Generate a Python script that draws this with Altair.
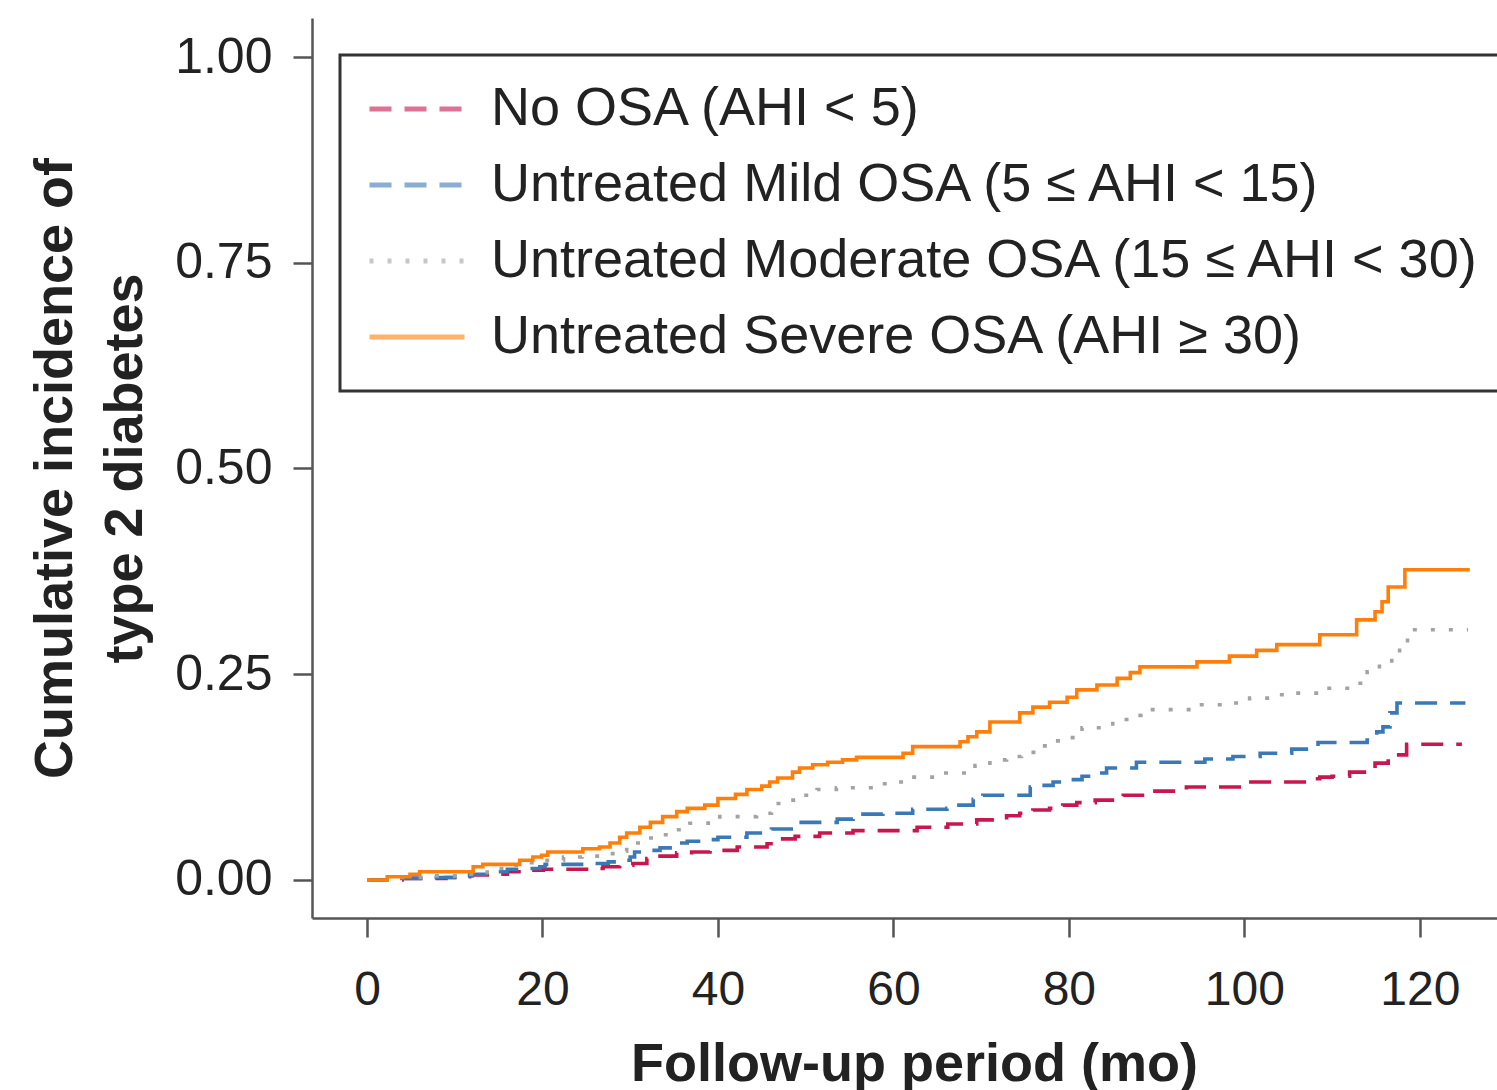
import altair as alt
import pandas as pd

# Group labels (legend order)
groups = [
    "No OSA (AHI < 5)",
    "Untreated Mild OSA (5 ≤ AHI < 15)",
    "Untreated Moderate OSA (15 ≤ AHI < 30)",
    "Untreated Severe OSA (AHI ≥ 30)",
]

# Cumulative incidence step curves: month at which each step begins, and value
no_osa_t = [0, 4, 9, 11, 11.7, 14.4, 16, 18.2, 20.1, 25.4, 26.9, 28.8, 30.3, 31.9, 33.4,
            35.3, 37, 39.1, 42.2, 45.6, 46.8, 48.8, 51.6, 55.4, 62.7, 66.2, 69.5, 72.9,
            74.4, 75.9, 77.8, 79.3, 80.9, 83, 86.2, 89.2, 93.4, 99.8, 107.8, 108.6, 110,
            112, 114, 114.9, 116.4, 118.5, 124.8]
no_osa_v = [0, 0.002, 0.003, 0.004, 0.006, 0.007, 0.010, 0.012, 0.013, 0.014, 0.016,
            0.018, 0.020, 0.026, 0.029, 0.033, 0.034, 0.036, 0.040, 0.044, 0.050, 0.053,
            0.057, 0.060, 0.064, 0.068, 0.073, 0.078, 0.081, 0.085, 0.087, 0.091, 0.094,
            0.097, 0.103, 0.108, 0.113, 0.119, 0.123, 0.125, 0.126, 0.131, 0.136, 0.142,
            0.152, 0.165, 0.165]

mild_t = [0, 3.8, 7, 10.9, 12, 14.4, 16, 18, 19.7, 20.3, 25, 27.5, 29.2, 30, 30.5, 32.3,
          33.4, 35.3, 36.5, 38.7, 40, 43.3, 46.1, 48.8, 53.6, 55.4, 58.8, 62.2, 66.1, 67,
          69.1, 70.2, 75.6, 76.8, 78.2, 79.8, 81.5, 82.8, 84.3, 87.7, 95.5, 98.7, 101.8,
          105.4, 108.4, 114, 115.1, 115.8, 116.6, 117.4, 125.2]
mild_v = [0, 0.002, 0.003, 0.005, 0.007, 0.010, 0.013, 0.014, 0.016, 0.019, 0.020, 0.022,
          0.024, 0.028, 0.034, 0.036, 0.039, 0.045, 0.047, 0.049, 0.052, 0.057, 0.062,
          0.070, 0.074, 0.080, 0.081, 0.086, 0.087, 0.091, 0.098, 0.103, 0.113, 0.115,
          0.119, 0.122, 0.126, 0.130, 0.136, 0.143, 0.147, 0.150, 0.154, 0.159, 0.167,
          0.170, 0.180, 0.186, 0.203, 0.215, 0.215]

moderate_t = [0, 3, 7, 11.5, 13.7, 16, 18.2, 20.3, 22.4, 24.5, 26.5, 28.5, 29.6, 31.5,
              33.4, 35.1, 36.8, 38.9, 40.2, 44.4, 46.1, 47.8, 49.6, 51.3, 53.5, 57.7,
              59.5, 61.5, 65.7, 69.3, 71, 72.9, 74.6, 76.4, 77.8, 79.8, 81.5, 85, 87,
              88.2, 94.7, 98.5, 100.6, 102.9, 104.8, 109, 112.8, 114, 115.4, 116.8,
              117.7, 118.6, 125.5]
moderate_v = [0, 0.003, 0.005, 0.007, 0.014, 0.018, 0.021, 0.024, 0.028, 0.029, 0.032,
              0.035, 0.045, 0.051, 0.055, 0.061, 0.069, 0.072, 0.077, 0.081, 0.093,
              0.097, 0.103, 0.110, 0.112, 0.117, 0.119, 0.125, 0.130, 0.139, 0.146,
              0.150, 0.155, 0.163, 0.169, 0.173, 0.185, 0.195, 0.200, 0.207, 0.213,
              0.215, 0.221, 0.225, 0.227, 0.233, 0.239, 0.253, 0.264, 0.273, 0.288,
              0.304, 0.304]

severe_t = [0, 2.3, 4.9, 6, 12.1, 13.2, 17.4, 18.9, 19.9, 20.6, 24.6, 26.5, 27.7, 28.8,
            29.6, 31.1, 32.3, 33.7, 35.3, 36.5, 38.5, 40, 42, 43.3, 45, 45.9, 46.8, 48.5,
            49.3, 50.8, 52.5, 54.2, 55.8, 61.1, 62.2, 67.6, 68.5, 69.5, 71, 74.4, 75.9,
            77.8, 79.8, 80.9, 83.2, 85.5, 87, 88.1, 94.6, 98.3, 101.4, 103.7, 108.6,
            112.8, 114.9, 115.7, 116.4, 118.3, 125.7]
severe_v = [0, 0.004, 0.007, 0.010, 0.016, 0.019, 0.024, 0.028, 0.030, 0.034, 0.038,
            0.040, 0.045, 0.052, 0.057, 0.064, 0.070, 0.077, 0.083, 0.087, 0.091, 0.099,
            0.104, 0.110, 0.114, 0.119, 0.124, 0.131, 0.136, 0.140, 0.143, 0.146, 0.149,
            0.154, 0.162, 0.168, 0.174, 0.180, 0.192, 0.203, 0.210, 0.216, 0.222, 0.231,
            0.237, 0.245, 0.252, 0.259, 0.265, 0.272, 0.279, 0.286, 0.298, 0.316, 0.326,
            0.338, 0.356, 0.377, 0.377]

x_ticks = [0, 20, 40, 60, 80, 100, 120]
y_ticks = [0.0, 0.25, 0.50, 0.75, 1.00]

colors = ["#c8164e", "#3b79b6", "#a3a3a3", "#ff7f0a"]
dashes = [[22, 13], [22, 13], [4, 14], [1, 0]]

series = [(no_osa_t, no_osa_v), (mild_t, mild_v), (moderate_t, moderate_v), (severe_t, severe_v)]
rows = []
for name, (ts, vs) in zip(groups, series):
    for t, v in zip(ts, vs):
        rows.append({"month": t, "incidence": v, "group": name})
df = pd.DataFrame(rows)

FONT = "Liberation Sans"

chart = (
    alt.Chart(df)
    .mark_line(interpolate="step-after", strokeWidth=3.6)
    .encode(
        x=alt.X(
            "month:Q",
            scale=alt.Scale(domain=[-6.27, 128.8], nice=False, zero=False),
            axis=alt.Axis(
                values=x_ticks,
                title="Follow-up period (mo)",
                titleX=602,
                titleY=162,
                titleBaseline="alphabetic",
                labelBaseline="alphabetic",
                labelPadding=67,
            ),
        ),
        y=alt.Y(
            "incidence:Q",
            scale=alt.Scale(domain=[-0.0462, 1.0474], nice=False, zero=False),
            axis=alt.Axis(
                values=y_ticks,
                format=".2f",
                title=["Cumulative incidence of", "type 2 diabetes"],
                titleX=-257,
                titleBaseline="middle",
                titleLineHeight=70,
                labelPadding=21,
                labelFontSize=50,
            ),
        ),
        color=alt.Color(
            "group:N",
            scale=alt.Scale(domain=groups, range=colors),
            legend=alt.Legend(title=None),
        ),
        strokeDash=alt.StrokeDash(
            "group:N",
            scale=alt.Scale(domain=groups, range=dashes),
            legend=alt.Legend(title=None),
        ),
    )
    .properties(
        width=1185,
        height=900,
        autosize=alt.AutoSizeParams(type="none"),
        padding={"left": 312, "top": 18, "right": 0, "bottom": 172},
        background="white",
    )
    .configure_view(stroke=None)
    .configure_axis(
        grid=False,
        domainColor="#555555",
        domainWidth=2.5,
        tickColor="#555555",
        tickWidth=2.5,
        tickSize=19,
        labelFont=FONT,
        labelFontSize=48,
        labelColor="#222222",
        titleFont=FONT,
        titleFontSize=54,
        titleFontWeight="bold",
        titleColor="#222222",
    )
    .configure_legend(
        orient="none",
        legendX=28,
        legendY=37,
        padding=27,
        strokeColor="#333333",
        strokeWidth=3,
        labelFont=FONT,
        labelFontSize=54,
        labelColor="#222222",
        labelLimit=2000,
        labelOffset=24,
        rowPadding=22,
        clipHeight=54,
        symbolType="stroke",
        symbolSize=9025,
        symbolStrokeWidth=5,
        symbolOpacity=0.6,
    )
)

chart.save("out.html", embed_options={"renderer": "svg", "actions": False})
